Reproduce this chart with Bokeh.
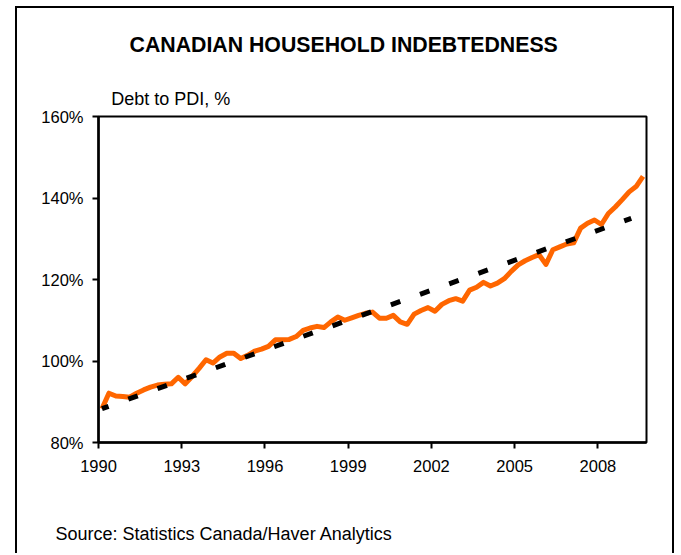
from bokeh.plotting import figure
from bokeh.models import Range1d, FixedTicker, PrintfTickFormatter, Title
from bokeh.embed import file_html
from bokeh.resources import INLINE

# ---------------- data ----------------
first_year = 1990
# Canadian household debt to personal disposable income, %, quarterly (1990Q1 .. 2009Q3)
debt_to_pdi = [
    88.3, 92.1, 91.4, 91.3, 91.1, 92.1, 92.9, 93.6, 94.1, 94.3,
    94.4, 96.0, 94.4, 96.2, 98.2, 100.3, 99.5, 101.0, 101.9, 101.9,
    100.6, 101.4, 102.4, 102.9, 103.6, 105.2, 105.2, 105.3, 106.0, 107.5,
    108.1, 108.5, 108.2, 109.6, 110.8, 110.0, 110.6, 111.2, 111.7, 112.0,
    110.5, 110.5, 111.2, 109.6, 109.0, 111.5, 112.4, 113.1, 112.2, 113.9,
    114.8, 115.3, 114.7, 117.4, 118.1, 119.3, 118.4, 119.1, 120.2, 122.0,
    123.6, 124.6, 125.4, 126.1, 123.7, 127.3, 128.0, 128.7, 129.0, 132.6,
    133.8, 134.6, 133.5, 136.2, 137.8, 139.6, 141.5, 142.8, 145.3,
]
trend_years = [1990.125, 2009.2]
trend_values = [88.3, 135.0]
x_tick_years = [1990, 1993, 1996, 1999, 2002, 2005, 2008]
y_tick_values = [80, 100, 120, 140, 160]

title_text = "CANADIAN HOUSEHOLD INDEBTEDNESS"
unit_text = "Debt to PDI, %"
source_text = "Source: Statistics Canada/Haver Analytics"

quarter_x = [first_year + (i + 0.5) / 4 for i in range(len(debt_to_pdi))]

FONT = "Liberation Sans"

# canvas origin on the page: (17, 8)
W, H = 659, 547
p = figure(
    width=W, height=H,
    output_backend="svg", toolbar_location=None,
    x_range=Range1d(1990, 2009.75), y_range=Range1d(80, 160),
    min_border_left=81, min_border_right=30,
    min_border_top=108, min_border_bottom=113,
    background_fill_color="white", border_fill_color="white",
)
p.margin = (6, 0, 0, 15)
p.styles = {"border-left": "2px solid black", "border-top": "2px solid black",
            "border-right": "2px solid black"}
p.title.visible = False
p.grid.visible = False
p.outline_line_color = "black"
p.outline_line_width = 2
p.outline_line_alpha = 1

for ax in (p.xaxis[0], p.yaxis[0]):
    ax.axis_line_color = "black"
    ax.axis_line_width = 2.5
    ax.major_tick_line_color = "black"
    ax.major_tick_line_width = 2
    ax.major_tick_in = 0
    ax.major_tick_out = 6
    ax.minor_tick_line_color = None
    ax.major_label_text_font = FONT
    ax.major_label_text_font_size = "16.5px"
    ax.major_label_text_color = "black"

p.xaxis[0].ticker = FixedTicker(ticks=x_tick_years)
p.xaxis[0].major_label_standoff = 11
p.yaxis[0].ticker = FixedTicker(ticks=y_tick_values)
p.yaxis[0].formatter = PrintfTickFormatter(format="%d%%")
p.yaxis[0].major_label_standoff = 9

p.line(quarter_x, debt_to_pdi, line_color="#FF6600", line_width=5, line_join="round")
p.line(trend_years, trend_values, line_color="black", line_width=5,
       line_dash="10 21", line_dash_offset=3)

p.add_layout(Title(text=unit_text, align="left", offset=12.7, standoff=16,
                   text_font=FONT, text_font_size="18px", text_font_style="normal",
                   text_color="black"), "above")
p.add_layout(Title(text=title_text, align="left", offset=31, standoff=44,
                   text_font=FONT, text_font_size="21.3px", text_font_style="bold",
                   text_color="black"), "above")
# empty spacer between the year labels and the source line
p.add_layout(Title(text=" ", standoff=46, text_font=FONT, text_font_size="1px",
                   text_color="white"), "below")
p.add_layout(Title(text=source_text, align="left", offset=-43, standoff=0,
                   vertical_align="top",
                   text_font=FONT, text_font_size="18px", text_font_style="normal",
                   text_color="black"), "below")

open("out.html", "w").write(file_html(p, INLINE))
